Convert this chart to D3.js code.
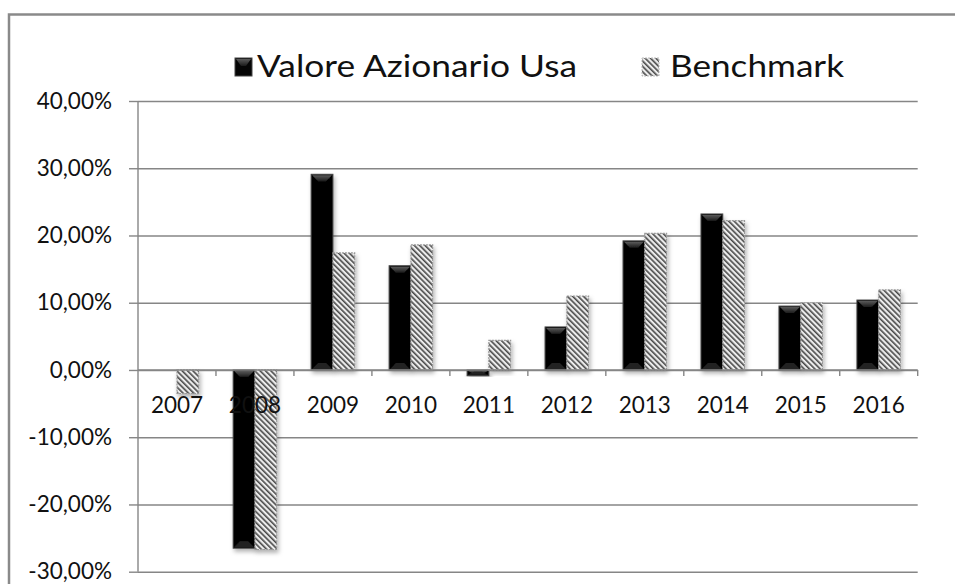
<!DOCTYPE html>
<html>
<head>
<meta charset="utf-8">
<script src="https://cdn.jsdelivr.net/npm/d3@7"></script>
<style>
  html, body { margin: 0; padding: 0; background: #fff; overflow: hidden; }
  svg { display: block; }
  text { font-family: Lato, "Open Sans", sans-serif; fill: #111; }
</style>
</head>
<body>
<svg id="chart" width="955" height="584"></svg>
<script>
const years = ["2007","2008","2009","2010","2011","2012","2013","2014","2015","2016"];
const seriesNames = ["Valore Azionario Usa", "Benchmark"];
const fondo = [null, -0.265, 0.291, 0.155, -0.0085, 0.064, 0.192, 0.232, 0.095, 0.104];
const benchmark = [-0.035, -0.267, 0.174, 0.186, 0.044, 0.110, 0.203, 0.222, 0.100, 0.119];
const yTicks = [-0.3, -0.2, -0.1, 0, 0.1, 0.2, 0.3, 0.4];

const svg = d3.select("#chart");
const W = 955, H = 584;
const margin = {left: 138, right: 37.3, top: 101, bottom: 12.3};

const defs = svg.append("defs");
const pat = defs.append("pattern")
  .attr("id", "hatch").attr("patternUnits", "userSpaceOnUse")
  .attr("width", 3.8).attr("height", 3.8)
  .attr("patternTransform", "rotate(-45)");
pat.append("rect").attr("width", 3.8).attr("height", 3.8).attr("fill", "#ececec");
pat.append("rect").attr("width", 1.6).attr("height", 3.8).attr("fill", "#4a4a4a");

const f = defs.append("filter").attr("id", "shadow")
  .attr("x", "-30%").attr("y", "-10%").attr("width", "160%").attr("height", "130%");
f.append("feDropShadow").attr("dx", 1.5).attr("dy", 3).attr("stdDeviation", 2)
  .attr("flood-color", "#000").attr("flood-opacity", 0.3);

const gradTop = defs.append("linearGradient").attr("id", "bevelTop")
  .attr("x1", 0).attr("y1", 0).attr("x2", 0).attr("y2", 1);
gradTop.append("stop").attr("offset", "0%").attr("stop-color", "#5a5a5a");
gradTop.append("stop").attr("offset", "100%").attr("stop-color", "#1a1a1a");

// outer border (left and top visible)
svg.append("path").attr("d", `M9,${H}V14.5H${W}`)
  .attr("fill", "none").attr("stroke", "#8a8a8a").attr("stroke-width", 2.5);

const x0 = d3.scaleBand().domain(years).range([margin.left, W - margin.right]).paddingInner(0).paddingOuter(0);
const x1 = d3.scaleBand().domain(seriesNames).range([0, x0.bandwidth()]).paddingInner(0).paddingOuter(0.79);
const y = d3.scaleLinear().domain([-0.3, 0.4]).range([H - margin.bottom, margin.top]);

const fmt = v => d3.format(".2f")(v * 100).replace(".", ",").replace("\u2212", "-") + "%";

// gridlines
const gy = svg.append("g").attr("transform", `translate(${margin.left},0)`)
  .call(d3.axisLeft(y).tickValues(yTicks).tickSize(-(W - margin.right - margin.left)).tickFormat(""));
gy.select(".domain").remove();
gy.selectAll(".tick line").attr("stroke", "#868686").attr("stroke-width", 1.4);
const gy2 = svg.append("g").attr("transform", `translate(${margin.left},0)`)
  .call(d3.axisLeft(y).tickValues(yTicks).tickSize(9).tickPadding(17).tickFormat(fmt));
gy2.select(".domain").attr("stroke", "#868686").attr("stroke-width", 1.4)
  .attr("d", `M0,${y(-0.3)}V${y(0.4)}`);
gy2.selectAll(".tick line").attr("stroke", "#868686").attr("stroke-width", 1.4);
gy2.selectAll(".tick text").attr("font-size", 22.5).attr("font-family", "Lato, sans-serif").attr("fill", "#111");

// bars
const data = years.map((yr, i) => ({year: yr, vals: [
  {s: seriesNames[0], v: fondo[i]}, {s: seriesNames[1], v: benchmark[i]}]}));

const groups = svg.append("g").selectAll("g").data(data).join("g")
  .attr("transform", d => `translate(${x0(d.year)},0)`);

groups.each(function(d) {
  const g = d3.select(this);
  d.vals.forEach(b => {
    if (b.v === null) return;
    const bx = x1(b.s), bw = x1.bandwidth();
    const yt = y(Math.max(0, b.v)), yb = y(Math.min(0, b.v));
    const h = yb - yt;
    const bg = g.append("g").attr("filter", "url(#shadow)");
    if (b.s === seriesNames[0]) {
      bg.append("rect").attr("x", bx).attr("y", yt).attr("width", bw).attr("height", h)
        .attr("fill", "#050505").attr("stroke", "#444").attr("stroke-width", 1);
      const bev = Math.min(6, h / 2);
      const cx = bx + bw / 2;
      if (h > 4) {
        bg.append("path").attr("d",
          `M${bx+1},${yt+1}L${bx+bw-1},${yt+1}L${cx+4},${yt+1+bev}L${cx-4},${yt+1+bev}Z`)
          .attr("fill", "url(#bevelTop)");
        bg.append("path").attr("d",
          `M${bx+1},${yb-1}L${bx+bw-1},${yb-1}L${cx+4},${yb-1-bev}L${cx-4},${yb-1-bev}Z`)
          .attr("fill", "#222");
      }
    } else {
      bg.append("rect").attr("x", bx).attr("y", yt).attr("width", bw).attr("height", h)
        .attr("fill", "url(#hatch)").attr("stroke", "#9a9a9a").attr("stroke-width", 1.2)
        .attr("stroke-dasharray", "2,1");
    }
  });
});

// x axis at zero
const gx = svg.append("g").attr("transform", `translate(0,${y(0)})`)
  .call(d3.axisBottom(x0).tickSize(0).tickPadding(27));
gx.select(".domain").attr("stroke", "#868686").attr("stroke-width", 1.4)
  .attr("d", `M${margin.left},0H${W - margin.right}`);
gx.selectAll(".tick text").attr("font-size", 22.5).attr("font-family", "Lato, sans-serif").attr("fill", "#111");
// category boundary ticks
svg.append("g").selectAll("line").data(years.slice(1).concat(["end"])).join("line")
  .attr("x1", d => d === "end" ? W - margin.right : x0(d))
  .attr("x2", d => d === "end" ? W - margin.right : x0(d))
  .attr("y1", y(0)).attr("y2", y(0) + 6)
  .attr("stroke", "#868686").attr("stroke-width", 1.4);

// legend
const leg = svg.append("g");
leg.append("rect").attr("x", 235).attr("y", 58).attr("width", 17).attr("height", 18)
  .attr("fill", "#050505").attr("stroke", "#444");
leg.append("path").attr("d", "M236,59L251,59L246,66L241,66Z").attr("fill", "url(#bevelTop)");
leg.append("text").attr("x", 257).attr("y", 77).attr("font-size", 30)
  .attr("textLength", 320).attr("lengthAdjust", "spacingAndGlyphs").text(seriesNames[0]);
leg.append("rect").attr("x", 642).attr("y", 58).attr("width", 17).attr("height", 18)
  .attr("fill", "url(#hatch)").attr("stroke", "#bbb").attr("stroke-dasharray", "2,1");
leg.append("text").attr("x", 670).attr("y", 77).attr("font-size", 30)
  .attr("textLength", 174).attr("lengthAdjust", "spacingAndGlyphs").text(seriesNames[1]);
</script>
</body>
</html>
